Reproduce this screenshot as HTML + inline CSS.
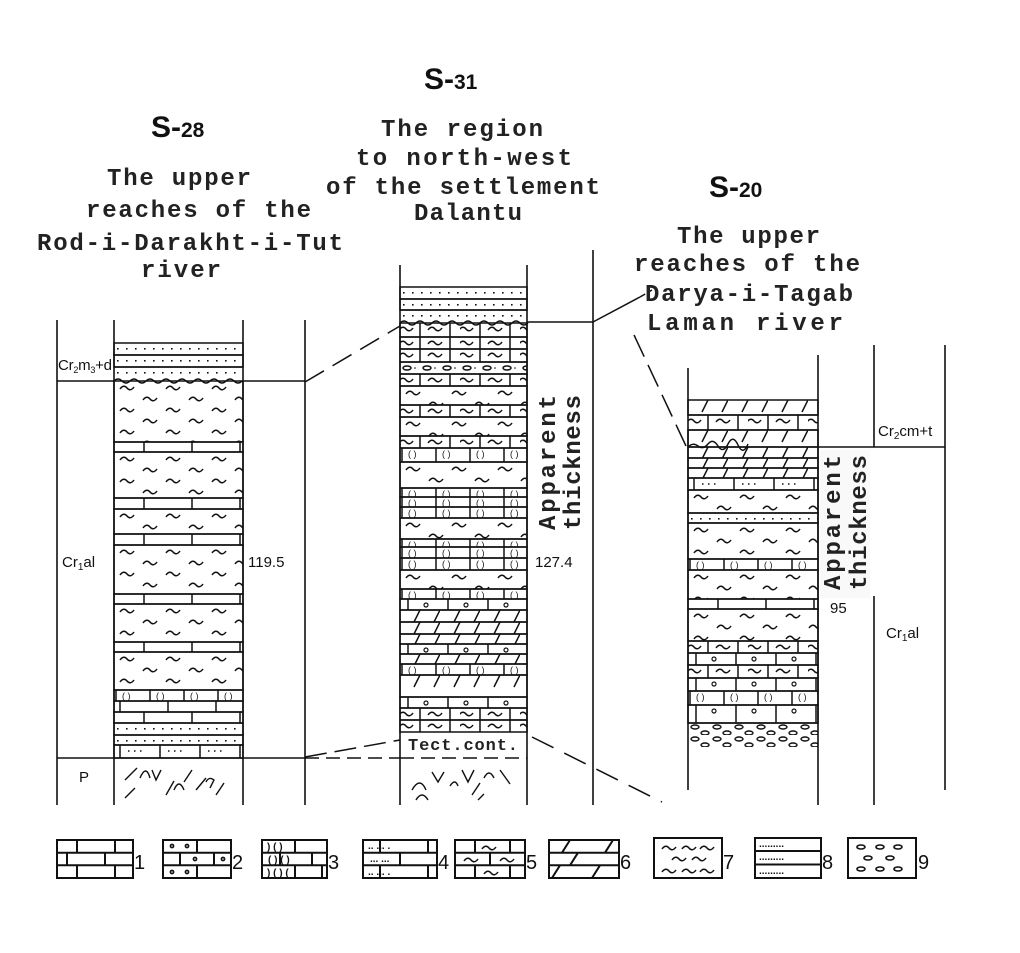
<!DOCTYPE html>
<html><head><meta charset="utf-8"><style>
html,body{margin:0;padding:0;background:#fff;}
svg{display:block}
.t{font-family:"Liberation Mono",monospace;font-size:24px;font-weight:bold;fill:#222}
.h{font-family:"Liberation Sans",sans-serif;font-size:30px;font-weight:bold;fill:#111}
.l{font-family:"Liberation Sans",sans-serif;font-size:15px;fill:#111}
</style></head><body>
<svg width="1020" height="953" viewBox="0 0 1020 953" xmlns="http://www.w3.org/2000/svg">
<defs>
<g id="tl"><path d="M0 0 c2.5 -3.5 5 -3.5 7 -1 s4.5 2.5 7 -1" fill="none" stroke="#111" stroke-width="1.5"/></g>
<pattern id="br" patternUnits="userSpaceOnUse" width="96" height="40"><path d="M30 0V40M78 0V40" stroke="#111" stroke-width="1.5"/></pattern>
<pattern id="br2" patternUnits="userSpaceOnUse" width="96" height="40"><path d="M6 0V40M54 0V40" stroke="#111" stroke-width="1.5"/></pattern>
<pattern id="brt" patternUnits="userSpaceOnUse" width="60" height="40"><path d="M20 0V40M50 0V40" stroke="#111" stroke-width="1.5"/><use href="#tl" x="28" y="7"/><use href="#tl" x="-1" y="7"/></pattern>
<pattern id="brc" patternUnits="userSpaceOnUse" width="34" height="40"><path d="M2 0V40" stroke="#111" stroke-width="1.5"/><text x="8" y="9" font-size="9" font-family="Liberation Sans" fill="#111">(  )</text></pattern>
<pattern id="bro" patternUnits="userSpaceOnUse" width="40" height="40"><path d="M8 0V40" stroke="#111" stroke-width="1.5"/><circle cx="26" cy="6" r="2" fill="none" stroke="#111" stroke-width="1.2"/></pattern>
<pattern id="brd" patternUnits="userSpaceOnUse" width="40" height="40"><path d="M6 0V40" stroke="#111" stroke-width="1.5"/><path d="M14 6h1.5M20 6h1.5M26 6h1.5" stroke="#111" stroke-width="1.5"/></pattern>
<pattern id="dt" patternUnits="userSpaceOnUse" width="9" height="40"><rect x="3" y="5" width="1.6" height="1.6" fill="#111"/></pattern>
<pattern id="sh" patternUnits="userSpaceOnUse" width="46" height="22"><use href="#tl" x="6" y="8"/><use href="#tl" x="29" y="19"/></pattern>
<pattern id="dl" patternUnits="userSpaceOnUse" width="40" height="40"><path d="M14 12L20 0M34 12L40 0" stroke="#111" stroke-width="1.5"/></pattern>
<pattern id="cg" patternUnits="userSpaceOnUse" width="20" height="12"><ellipse cx="7" cy="6" rx="4" ry="2" fill="none" stroke="#111" stroke-width="1.5"/><circle cx="15" cy="6" r="0.8" fill="#111"/></pattern>
<pattern id="cg2" patternUnits="userSpaceOnUse" width="22" height="12"><ellipse cx="7" cy="4" rx="4" ry="2" fill="none" stroke="#111" stroke-width="1.4"/><ellipse cx="17" cy="10" rx="4" ry="2" fill="none" stroke="#111" stroke-width="1.4"/></pattern>
</defs>
<g stroke="#111" stroke-width="1.6">
<line x1="57" y1="320" x2="57" y2="805"/><line x1="114" y1="320" x2="114" y2="805"/><line x1="243" y1="320" x2="243" y2="805"/><line x1="305" y1="320" x2="305" y2="805"/>
<line x1="57" y1="381" x2="114" y2="381"/><line x1="243" y1="381" x2="305" y2="381"/><line x1="57" y1="758" x2="305" y2="758"/>
<line x1="400" y1="265" x2="400" y2="805"/><line x1="527" y1="265" x2="527" y2="805"/><line x1="593" y1="250" x2="593" y2="805"/>
<line x1="527" y1="322" x2="593" y2="322"/>
<line x1="688" y1="368" x2="688" y2="790"/><line x1="818" y1="355" x2="818" y2="805"/>
<line x1="874" y1="345" x2="874" y2="447"/><line x1="874" y1="596" x2="874" y2="805"/><line x1="945" y1="345" x2="945" y2="790"/>
<line x1="818" y1="447" x2="945" y2="447"/>
</g>
<g stroke="#111" stroke-width="1.5" fill="none">
<path d="M305 382L400 326" stroke-dasharray="22 10"/>
<path d="M593 322L640 297"/><path d="M640 297L652 290" stroke-dasharray="6 4"/>
<path d="M634 335L686 446" stroke-dasharray="24 9"/>
<path d="M305 757L400 740" stroke-dasharray="22 8"/>
<path d="M305 758L400 758" stroke-dasharray="14 7"/>
<path d="M400 758L527 758" stroke-dasharray="14 7"/>
<path d="M532 737L662 802" stroke-dasharray="24 12"/>
</g>
<g stroke="#111" stroke-width="1.5">
<g transform="translate(114,343)"><rect width="129" height="12" fill="url(#dt)"/></g>
<g transform="translate(114,355)"><rect width="129" height="12" fill="url(#dt)"/></g>
<g transform="translate(114,367)"><rect width="129" height="14" fill="url(#dt)" stroke="none"/><line x1="0" y1="0" x2="129" y2="0"/></g>
<g transform="translate(114,381)"><rect width="129" height="61" fill="url(#sh)"/></g>
<g transform="translate(114,442)"><rect width="129" height="10" fill="url(#br)"/></g>
<g transform="translate(114,452)"><rect width="129" height="46" fill="url(#sh)"/></g>
<g transform="translate(114,498)"><rect width="129" height="11" fill="url(#br)"/></g>
<g transform="translate(114,509)"><rect width="129" height="25" fill="url(#sh)"/></g>
<g transform="translate(114,534)"><rect width="129" height="11" fill="url(#br)"/></g>
<g transform="translate(114,545)"><rect width="129" height="49" fill="url(#sh)"/></g>
<g transform="translate(114,594)"><rect width="129" height="10" fill="url(#br)"/></g>
<g transform="translate(114,604)"><rect width="129" height="38" fill="url(#sh)"/></g>
<g transform="translate(114,642)"><rect width="129" height="10" fill="url(#br)"/></g>
<g transform="translate(114,652)"><rect width="129" height="38" fill="url(#sh)"/></g>
<g transform="translate(114,690)"><rect width="129" height="11" fill="url(#brc)"/></g>
<g transform="translate(114,701)"><rect width="129" height="11" fill="url(#br2)"/></g>
<g transform="translate(114,712)"><rect width="129" height="11" fill="url(#br)"/></g>
<g transform="translate(114,723)"><rect width="129" height="12" fill="url(#dt)"/></g>
<g transform="translate(114,735)"><rect width="129" height="10" fill="url(#dt)"/></g>
<g transform="translate(114,745)"><rect width="129" height="13" fill="url(#brd)"/></g>
</g>
<path d="M114 381 q4 -4 8 0 t8 0 t8 0 t8 0 t8 0 t8 0 t8 0 t8 0 t8 0 t8 0 t8 0 t8 0 t8 0 t8 0 t8 0 t8 0" fill="none" stroke="#111" stroke-width="1.5"/>
<g fill="none" stroke="#111" stroke-width="1.4">
<path d="M125 780l12 -12M125 798l10 -10M140 778q6 -14 10 0M152 770l4 10l5 -10M166 795l8 -14M174 790q5 -12 10 0M192 770l-8 12M196 790l10 -12M206 782q3 -6 8 -2l-4 8M216 795l8 -12"/>
<path d="M412 790q8 -14 14 0M416 800q6 -10 12 0M432 772l6 10l6 -10M450 786q5 -8 8 0M462 770l6 12l6 -12M472 795l8 -12M484 778q5 -10 10 0M500 770l10 14M478 800l6 -6"/>
</g>
<g stroke="#111" stroke-width="1.5">
<g transform="translate(400,287)"><rect width="127" height="12" fill="url(#dt)"/></g>
<g transform="translate(400,299)"><rect width="127" height="11" fill="url(#dt)"/></g>
<g transform="translate(400,310)"><rect width="127" height="13" fill="url(#dt)" stroke="none"/><line x1="0" y1="0" x2="127" y2="0"/></g>
<g transform="translate(400,323)"><rect width="127" height="14" fill="url(#brt)"/></g>
<g transform="translate(400,337)"><rect width="127" height="12" fill="url(#brt)"/></g>
<g transform="translate(400,349)"><rect width="127" height="13" fill="url(#brt)"/></g>
<g transform="translate(400,362)"><rect width="127" height="12" fill="url(#cg)"/></g>
<g transform="translate(400,374)"><rect width="127" height="12" fill="url(#brt)"/></g>
<g transform="translate(400,386)"><rect width="127" height="19" fill="url(#sh)"/></g>
<g transform="translate(400,405)"><rect width="127" height="12" fill="url(#brt)"/></g>
<g transform="translate(400,417)"><rect width="127" height="19" fill="url(#sh)"/></g>
<g transform="translate(400,436)"><rect width="127" height="12" fill="url(#brt)"/></g>
<g transform="translate(400,448)"><rect width="127" height="14" fill="url(#brc)"/></g>
<g transform="translate(400,462)"><rect width="127" height="26" fill="url(#sh)"/></g>
<g transform="translate(400,488)"><rect width="127" height="9" fill="url(#brc)"/></g>
<g transform="translate(400,497)"><rect width="127" height="10" fill="url(#brc)"/></g>
<g transform="translate(400,507)"><rect width="127" height="11" fill="url(#brc)"/></g>
<g transform="translate(400,518)"><rect width="127" height="21" fill="url(#sh)"/></g>
<g transform="translate(400,539)"><rect width="127" height="8" fill="url(#brc)"/></g>
<g transform="translate(400,547)"><rect width="127" height="11" fill="url(#brc)"/></g>
<g transform="translate(400,558)"><rect width="127" height="12" fill="url(#brc)"/></g>
<g transform="translate(400,570)"><rect width="127" height="19" fill="url(#sh)"/></g>
<g transform="translate(400,589)"><rect width="127" height="10" fill="url(#brc)"/></g>
<g transform="translate(400,599)"><rect width="127" height="11" fill="url(#bro)"/></g>
<g transform="translate(400,610)"><rect width="127" height="12" fill="url(#dl)"/></g>
<g transform="translate(400,622)"><rect width="127" height="12" fill="url(#dl)"/></g>
<g transform="translate(400,634)"><rect width="127" height="10" fill="url(#dl)"/></g>
<g transform="translate(400,644)"><rect width="127" height="10" fill="url(#bro)"/></g>
<g transform="translate(400,654)"><rect width="127" height="10" fill="url(#dl)"/></g>
<g transform="translate(400,664)"><rect width="127" height="11" fill="url(#brc)"/></g>
<g transform="translate(400,675)"><rect width="127" height="22" fill="url(#dl)"/></g>
<g transform="translate(400,697)"><rect width="127" height="11" fill="url(#bro)"/></g>
<g transform="translate(400,708)"><rect width="127" height="12" fill="url(#brt)"/></g>
<g transform="translate(400,720)"><rect width="127" height="12" fill="url(#brt)"/></g>
</g>
<path d="M400 323 q4 -4 8 0 t8 0 t8 0 t8 0 t8 0 t8 0 t8 0 t8 0 t8 0 t8 0 t8 0 t8 0 t8 0 t8 0 t8 0 t8 0" fill="none" stroke="#111" stroke-width="1.5"/>
<rect x="403" y="733" width="120" height="22" fill="#fff"/>
<text x="408" y="750" font-family="Liberation Mono" font-size="17" font-weight="bold" fill="#222" textLength="110" lengthAdjust="spacing">Tect.cont.</text>
<g stroke="#111" stroke-width="1.5">
<g transform="translate(688,400)"><rect width="130" height="15" fill="url(#dl)"/></g>
<g transform="translate(688,415)"><rect width="130" height="15" fill="url(#brt)" stroke="none"/><line x1="0" y1="0" x2="130" y2="0"/><line x1="0" y1="15" x2="130" y2="15"/></g>
<g transform="translate(688,430)"><rect width="130" height="17" fill="url(#dl)"/></g>
<g transform="translate(688,447)"><rect width="130" height="11" fill="url(#dl)"/></g>
<g transform="translate(688,458)"><rect width="130" height="10" fill="url(#dl)"/></g>
<g transform="translate(688,468)"><rect width="130" height="10" fill="url(#dl)"/></g>
<g transform="translate(688,478)"><rect width="130" height="12" fill="url(#brd)"/></g>
<g transform="translate(688,490)"><rect width="130" height="23" fill="url(#sh)"/></g>
<g transform="translate(688,513)"><rect width="130" height="10" fill="url(#dt)"/></g>
<g transform="translate(688,523)"><rect width="130" height="36" fill="url(#sh)"/></g>
<g transform="translate(688,559)"><rect width="130" height="11" fill="url(#brc)"/></g>
<g transform="translate(688,570)"><rect width="130" height="29" fill="url(#sh)"/></g>
<g transform="translate(688,599)"><rect width="130" height="10" fill="url(#br)"/></g>
<g transform="translate(688,609)"><rect width="130" height="32" fill="url(#sh)"/></g>
<g transform="translate(688,641)"><rect width="130" height="12" fill="url(#brt)"/></g>
<g transform="translate(688,653)"><rect width="130" height="12" fill="url(#bro)"/></g>
<g transform="translate(688,665)"><rect width="130" height="13" fill="url(#brt)"/></g>
<g transform="translate(688,678)"><rect width="130" height="13" fill="url(#bro)"/></g>
<g transform="translate(688,691)"><rect width="130" height="14" fill="url(#brc)"/></g>
<g transform="translate(688,705)"><rect width="130" height="18" fill="url(#bro)"/></g>
<g transform="translate(688,723)"><rect width="130" height="25" fill="url(#cg2)" stroke="none"/><line x1="0" y1="0" x2="130" y2="0"/></g>
</g>
<path d="M688 447 q5 -5 10 -1 t10 -2 t10 2 t10 -2 t10 1 t10 -1" fill="none" stroke="#111" stroke-width="1.5"/>
<text x="424" y="89" class="h">S-<tspan font-size="21">31</tspan></text>
<text x="151" y="137" class="h">S-<tspan font-size="21">28</tspan></text>
<text x="709" y="197" class="h">S-<tspan font-size="21">20</tspan></text>
<text class="t" x="107" y="185" textLength="144">The upper</text>
<text class="t" x="86" y="217" textLength="225">reaches of the</text>
<text class="t" x="37" y="250" textLength="306">Rod-i-Darakht-i-Tut</text>
<text class="t" x="141" y="277" textLength="80">river</text>
<text class="t" x="381" y="136" textLength="162">The region</text>
<text class="t" x="356" y="165" textLength="216">to north-west</text>
<text class="t" x="326" y="194" textLength="274">of the settlement</text>
<text class="t" x="414" y="220" textLength="108">Dalantu</text>
<text class="t" x="677" y="243" textLength="143">The upper</text>
<text class="t" x="634" y="271" textLength="226">reaches of the</text>
<text class="t" x="645" y="301" textLength="208">Darya-i-Tagab</text>
<text class="t" x="647" y="330" textLength="196">Laman river</text>
<text class="l" x="58" y="370" font-size="13" textLength="54">Cr<tspan font-size="9" dy="3">2</tspan><tspan dy="-3">m</tspan><tspan font-size="9" dy="3">3</tspan><tspan dy="-3">+d</tspan></text>
<text class="l" x="62" y="567">Cr<tspan font-size="10" dy="3">1</tspan><tspan dy="-3">al</tspan></text>
<text class="l" x="248" y="567">119.5</text>
<text class="l" x="79" y="782" font-size="17">P</text>
<text class="l" x="535" y="567">127.4</text>
<text class="l" x="878" y="436">Cr<tspan font-size="10" dy="3">2</tspan><tspan dy="-3">cm+t</tspan></text>
<text class="l" x="886" y="638">Cr<tspan font-size="10" dy="3">1</tspan><tspan dy="-3">al</tspan></text>
<text class="l" x="830" y="613">95</text>
<rect x="820" y="450" width="50" height="148" fill="#f9f9f9"/>
<text class="t" font-size="21" transform="translate(555,530) rotate(-90)" textLength="135">Apparent</text>
<text class="t" font-size="21" transform="translate(580,530) rotate(-90)" textLength="135">thickness</text>
<text class="t" font-size="21" transform="translate(840,590) rotate(-90)" textLength="135">Apparent</text>
<text class="t" font-size="21" transform="translate(866,590) rotate(-90)" textLength="135">thickness</text>
<g stroke="#111" stroke-width="2" fill="none">
<rect x="57" y="840" width="76" height="38"/><path d="M57 852.7H133M57 865.3H133M77 840V852.7M115 840V852.7M67 852.7V865.3M105 852.7V865.3M77 865.3V878M115 865.3V878"/>
<rect x="163" y="840" width="68" height="38"/><path d="M163 852.7H231M163 865.3H231M197 840V852.7M180 852.7V865.3M214 852.7V865.3M197 865.3V878"/>
<rect x="262" y="840" width="65" height="38"/><path d="M262 852.7H327M262 865.3H327M295 840V852.7M280 852.7V865.3M312 852.7V865.3M295 865.3V878M322 865.3V878"/>
<rect x="363" y="840" width="74" height="38"/><path d="M363 852.7H437M363 865.3H437M380 840V852.7M428 840V852.7M400 852.7V865.3M380 865.3V878M428 865.3V878"/>
<rect x="455" y="840" width="70" height="38"/><path d="M455 852.7H525M455 865.3H525M475 840V852.7M510 840V852.7M490 852.7V865.3M475 865.3V878M510 865.3V878"/>
<rect x="549" y="840" width="70" height="38"/><path d="M549 852.7H619M549 865.3H619M562 852.7L570 840M605 852.7L613 840M570 865.3L578 852.7M552 878L560 865.3M592 878L600 865.3"/>
<rect x="654" y="838" width="68" height="40"/>
<rect x="755" y="838" width="66" height="40"/><path d="M755 851H821M755 864.5H821"/>
<rect x="848" y="838" width="68" height="40"/>
</g>
<g fill="none" stroke="#111" stroke-width="1.6">
<circle cx="172" cy="846" r="1.6"/><circle cx="187" cy="846" r="1.6"/><circle cx="195" cy="859" r="1.6"/><circle cx="223" cy="859" r="1.6"/><circle cx="172" cy="872" r="1.6"/><circle cx="187" cy="872" r="1.6"/>
<use href="#tl" x="482" y="849"/><use href="#tl" x="464" y="861"/><use href="#tl" x="500" y="861"/><use href="#tl" x="484" y="874"/>
<use href="#tl" x="662" y="849"/><use href="#tl" x="682" y="849"/><use href="#tl" x="700" y="849"/><use href="#tl" x="672" y="860"/><use href="#tl" x="692" y="860"/><use href="#tl" x="662" y="872"/><use href="#tl" x="682" y="872"/><use href="#tl" x="700" y="872"/>
<ellipse cx="861" cy="847" rx="4" ry="2"/><ellipse cx="880" cy="847" rx="4" ry="2"/><ellipse cx="898" cy="847" rx="4" ry="2"/><ellipse cx="868" cy="858" rx="4" ry="2"/><ellipse cx="890" cy="858" rx="4" ry="2"/><ellipse cx="861" cy="869" rx="4" ry="2"/><ellipse cx="880" cy="869" rx="4" ry="2"/><ellipse cx="898" cy="869" rx="4" ry="2"/>
</g>
<g font-family="Liberation Sans" font-size="10" font-weight="bold" fill="#111">
<text x="267" y="850">)   (  )</text><text x="268" y="863">(  ) (  )</text><text x="267" y="876">)  (   ) (</text>
<text x="368" y="849">..  ...  .</text><text x="370" y="862">...   ...</text><text x="368" y="875">..  ...  .</text>
<text x="759" y="847">.........</text><text x="759" y="860">.........</text><text x="759" y="874">.........</text>
</g>
<g font-family="Liberation Sans" font-size="20" fill="#111">
<text x="134" y="869">1</text><text x="232" y="869">2</text><text x="328" y="869">3</text><text x="438" y="869">4</text><text x="526" y="869">5</text><text x="620" y="869">6</text><text x="723" y="869">7</text><text x="822" y="869">8</text><text x="918" y="869">9</text>
</g>
</svg>
</body></html>
